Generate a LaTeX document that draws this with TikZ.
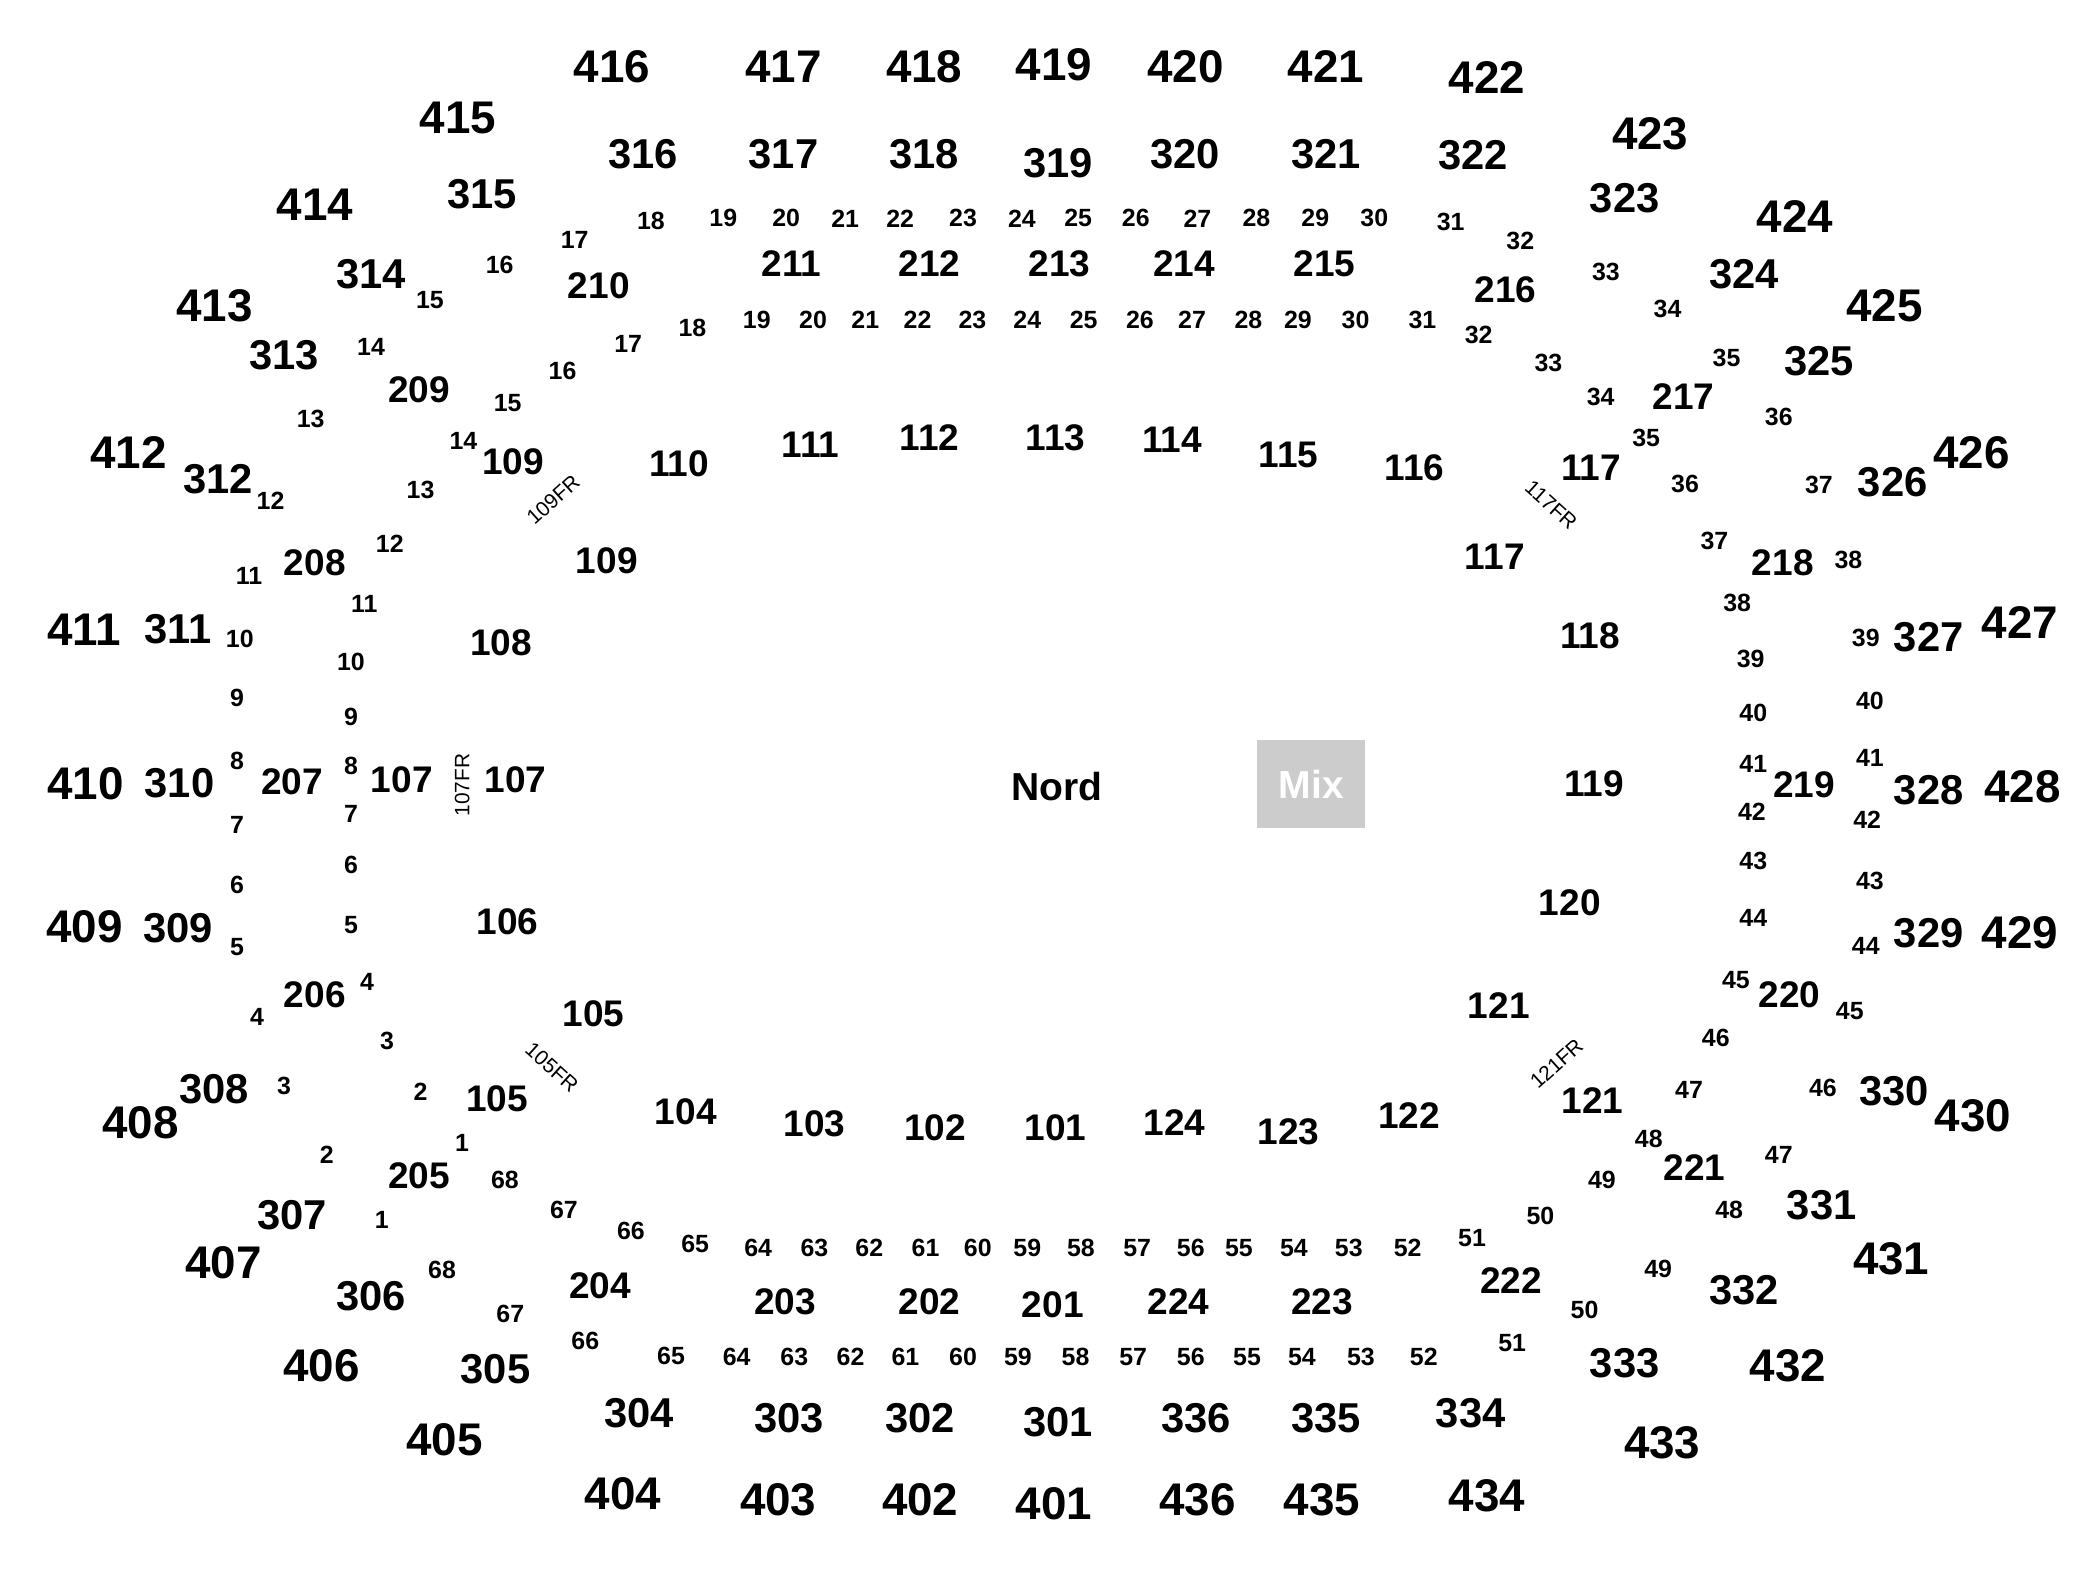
\documentclass[tikz,border=0pt]{standalone}
\usepackage{fontspec}
\setmainfont{Liberation Sans}
\begin{document}
\begin{tikzpicture}[x=0.995pt,y=-0.995pt,
  every node/.style={inner sep=0pt,outer sep=0pt,anchor=center},
  Lfour/.style={font=\fontsize{34}{34}\selectfont\bfseries},
  Lthree/.style={font=\fontsize{31}{31}\selectfont\bfseries},
  Ltwo/.style={font=\fontsize{27.5}{27.5}\selectfont\bfseries},
  Lone/.style={font=\fontsize{27.5}{27.5}\selectfont\bfseries},
  seat/.style={font=\fontsize{18.5}{18.5}\selectfont\bfseries},
  frl/.style={font=\fontsize{15.5}{15.5}\selectfont},
  big/.style={font=\fontsize{29}{29}\selectfont\bfseries}]
\useasboundingbox (0,0) rectangle (1567.84,1170.85);
% 400 level
\foreach \t/\x/\y [count=\i] in {416/457/50,417/585/50,418/690/50,419/787/48,420/885/50,421/990/50,422/1110/58,423/1232/100,424/1340/162,425/1407/228,426/1472/338,427/1508/465,428/1510/587,429/1508/696,430/1473/833,431/1412/940,432/1335/1020,433/1241/1077,434/1110/1117,435/987/1120,436/894/1120,401/787/1123,402/687/1120,403/581/1120,404/465/1115,405/332/1075,406/240/1020,407/167/943,408/105/838,409/63/692,410/64/585,411/63/470,412/96/338,413/160/228,414/235/153,415/342/88}
  \node[Lfour] (f\i) at (\x,\y) {\t};
% 300 level
\foreach \t/\x/\y [count=\i] in {316/480/115,317/585/115,318/690/115,319/790/122,320/885/115,321/990/115,322/1100/116,323/1213/148,324/1302/205,325/1358/270,326/1413/360,327/1440/476,328/1440/590,329/1440/697,330/1414/815,331/1360/900,332/1302/963,333/1213/1018,334/1098/1055,335/990/1059,336/893/1059,301/790/1062,302/687/1059,303/589/1059,304/477/1055,305/370/1022,306/277/968,307/218/907,308/160/813,309/133/693,310/134/585,311/133/470,312/163/358,313/212/265,314/277/205,315/360/145}
  \node[Lthree] (h\i) at (\x,\y) {\t};
% 200 level
\foreach \t/\x/\y [count=\i] in {211/591/197,212/694/197,213/791/197,214/884/197,215/989/197,216/1124/216,217/1257/296,218/1331/420,219/1347/586,220/1336/743,221/1265/872,222/1128/956,223/987/972,224/880/972,201/786/974,202/694/972,203/586/972,204/448/960,205/313/878,206/235/743,207/218/584,208/235/420,209/313/291,210/447/213}
  \node[Ltwo] (t\i) at (\x,\y) {\t};
% 100 level
\foreach \t/\x/\y [count=\i] in {109/383/345,110/507/346,111/605/332,112/694/327,113/788/327,114/875/328,115/962/340,116/1056/349,117/1188/349,117/1116/416,118/1187/475,119/1190/585,120/1172/674,121/1119/751,121/1189/822,122/1052/833,123/962/845,124/877/838,101/788/842,102/698/842,103/608/839,104/512/830,105/371/820,105/443/757,106/379/688,107/385/582,107/300/582,108/374/480,109/453/419}
  \node[Lone] (o\i) at (\x,\y) {\t};
% outer seat row
\foreach \t/\x/\y [count=\i] in {17/429/179,18/486/165,19/540/163,20/587/163,21/631/163,22/672/163,23/719/163,24/763/163,25/805/163,26/848/163,27/894/163,28/938/163,29/982/163,30/1026/163,31/1083/166,32/1135/180,33/1199/203,34/1245/231,35/1289/267,36/1328/311,37/1358/362,38/1380/418,39/1393/476,40/1396/523,41/1396/566,42/1394/612,43/1396/658,44/1393/706,45/1381/755,46/1361/812,47/1328/862,48/1291/903,49/1238/947,50/1183/978,51/1129/1003,52/1063/1013,53/1016/1013,54/972/1013,55/931/1013,56/889/1013,57/846/1013,58/803/1013,59/760/1013,60/719/1013,61/676/1013,62/635/1013,63/593/1013,64/550/1013,65/501/1012,66/437/1001,67/381/981,68/330/948,1/285/911,2/244/862,3/212/811,4/192/759,5/177/707,6/177/661,7/177/616,8/177/568,9/177/521,10/179/477,11/186/430,12/202/374,13/232/313,14/277/259,15/321/224,16/373/198}
  \node[seat] (s\i) at (\x,\y) {\t};
% inner seat row
\foreach \t/\x/\y [count=\i] in {17/469/257,18/517/245,19/565/239,20/607/239,21/646/239,22/685/239,23/726/239,24/767/239,25/809/239,26/851/239,27/890/239,28/932/239,29/969/239,30/1012/239,31/1062/239,32/1104/250,33/1156/271,34/1195/296,35/1229/327,36/1258/361,37/1280/404,38/1297/450,39/1307/492,40/1309/532,41/1309/570,42/1308/606,43/1309/643,44/1309/685,45/1296/732,46/1281/775,47/1261/814,48/1231/850,49/1196/881,50/1150/908,51/1099/924,52/1051/932,53/1007/932,54/966/932,55/925/932,56/889/932,57/849/932,58/807/932,59/767/932,60/730/932,61/691/932,62/649/932,63/608/932,64/566/932,65/519/929,66/471/919,67/421/903,68/377/881,1/345/853,2/314/815,3/289/777,4/274/733,5/262/691,6/262/646,7/262/608,8/262/572,9/262/535,10/262/494,11/272/451,12/291/406,13/314/366,14/346/329,15/379/301,16/420/277}
  \node[seat] (r\i) at (\x,\y) {\t};
% floor row labels
\node[frl,rotate=42] (fr109) at (413,373) {109FR};
\node[frl,rotate=-42] (fr117) at (1158,377) {117FR};
\node[frl,rotate=42] (fr121) at (1162,794) {121FR};
\node[frl,rotate=-42] (fr105) at (412,797) {105FR};
\node[frl,rotate=90] (fr107) at (345,586) {107FR};
% centre
\node[big] (nord) at (789,587) {Nord};
\node[big,fill={rgb,255:red,204;green,204;blue,204},text=white,minimum width=80pt,minimum height=65pt] (mix) at (979,585.3) {Mix};
\end{tikzpicture}
\end{document}
